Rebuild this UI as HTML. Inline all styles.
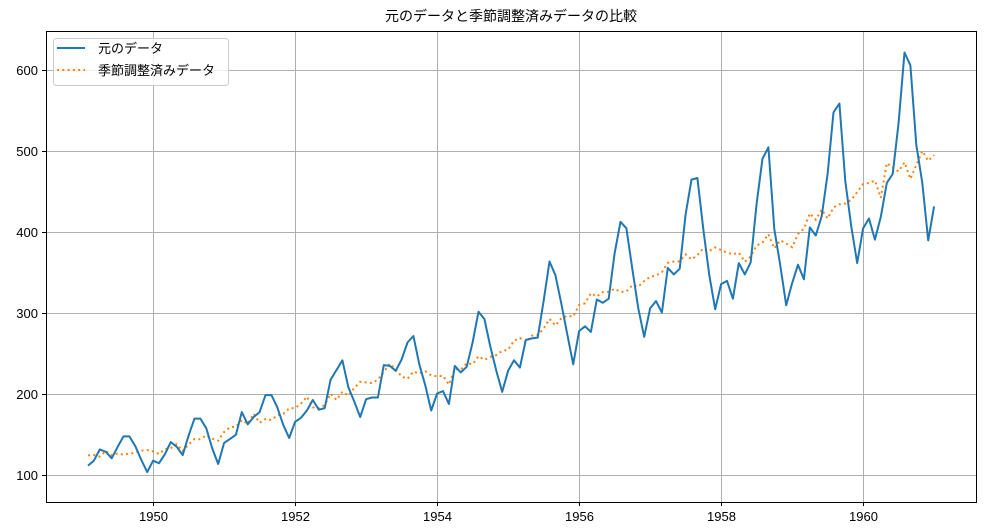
<!DOCTYPE html>
<html><head><meta charset="utf-8"><style>
html,body{margin:0;padding:0;background:#fff;}
svg text{font-family:"Liberation Sans","Noto Sans CJK JP",sans-serif;}
</style></head><body>
<svg id="s" width="985" height="526" xmlns="http://www.w3.org/2000/svg">
<rect width="985" height="526" fill="#fff"/>
<g id="grid" stroke="#b0b0b0" stroke-width="1"></g>
<g id="ticks"></g>
<polyline id="adj" fill="none" stroke="#ff7f0e" stroke-width="2" stroke-dasharray="2,3.3"/>
<polyline id="orig" fill="none" stroke="#1f77b4" stroke-width="2" stroke-linejoin="round"/>
<rect x="46.5" y="31.5" width="930" height="471" fill="none" stroke="#000" stroke-width="1"/>
<text x="511" y="21" font-size="14" text-anchor="middle" fill="#000">元のデータと季節調整済みデータの比較</text>
<rect x="53.5" y="38.5" width="175" height="47" rx="3" fill="#fff" fill-opacity="0.8" stroke="#ccc"/>
<line x1="57" y1="48" x2="85" y2="48" stroke="#1f77b4" stroke-width="2"/>
<line x1="57" y1="70" x2="85" y2="70" stroke="#ff7f0e" stroke-width="2" stroke-dasharray="2,3.3"/>
<text x="98" y="53" font-size="13">元のデータ</text>
<text x="98" y="75" font-size="13">季節調整済みデータ</text>
</svg>
<script>
var d=[112,118,132,129,121,135,148,148,136,119,104,118,115,126,141,135,125,149,170,170,158,133,114,140,145,150,178,163,172,178,199,199,184,162,146,166,171,180,193,181,183,218,230,242,209,191,172,194,196,196,236,235,229,243,264,272,237,211,180,201,204,188,235,227,234,264,302,293,259,229,203,229,242,233,267,269,270,315,364,347,312,274,237,278,284,277,317,313,318,374,413,405,355,306,271,306,315,301,356,348,355,422,465,467,404,347,305,336,340,318,362,348,363,435,491,505,404,359,310,337,360,342,406,396,420,472,548,559,463,407,362,405,417,391,419,461,472,535,622,606,508,461,390,432];
var n=d.length,r=[];
for(var i=0;i<n;i++){
 if(i<6||i>n-7){r.push(null);continue;}
 var s=d[i-6]/2+d[i+6]/2;for(var j=i-5;j<=i+5;j++)s+=d[j];r.push(d[i]/(s/12));
}
var sf=[];
for(var i=0;i<n;i++){
 var sum=0,c=0;
 for(var k=-2;k<=2;k++){var j=i+12*k;if(j>=0&&j<n&&r[j]!==null){sum+=r[j];c++;}}
 if(c<2){for(var k=-4;k<=4;k++){var j=i+12*k;if(j>=0&&j<n&&r[j]!==null){sum+=r[j];c++;}}}
 sf.push(sum/c);
}
function X(y){return 82.3+71.0*(y-1949);}
function Y(v){return 475.3-(v-100)*0.81;}
var o=[],a=[];
for(var i=0;i<n;i++){var x=X(1949+(i+1)/12-0.003);o.push(x.toFixed(1)+','+Y(d[i]).toFixed(1));a.push(x.toFixed(1)+','+Y(d[i]/sf[i]).toFixed(1));}
document.getElementById('orig').setAttribute('points',o.join(' '));
document.getElementById('adj').setAttribute('points',a.join(' '));
var g=document.getElementById('grid'),t=document.getElementById('ticks'),h='',kk='';
for(var yr=1950;yr<=1960;yr+=2){var x=Math.round(X(yr))+0.5;h+='<line x1="'+x+'" y1="31" x2="'+x+'" y2="502"/>';kk+='<line x1="'+x+'" y1="502" x2="'+x+'" y2="506" stroke="#000"/><text x="'+x+'" y="521" font-size="13" text-anchor="middle">'+yr+'</text>';}
for(var v=100;v<=600;v+=100){var y=Math.round(Y(v))+0.5;h+='<line x1="46" y1="'+y+'" x2="977" y2="'+y+'"/>';kk+='<line x1="42" y1="'+y+'" x2="46" y2="'+y+'" stroke="#000"/><text x="38" y="'+(y+4.5)+'" font-size="13" text-anchor="end">'+v+'</text>';}
g.innerHTML=h;t.innerHTML=kk;
</script>
</body></html>
